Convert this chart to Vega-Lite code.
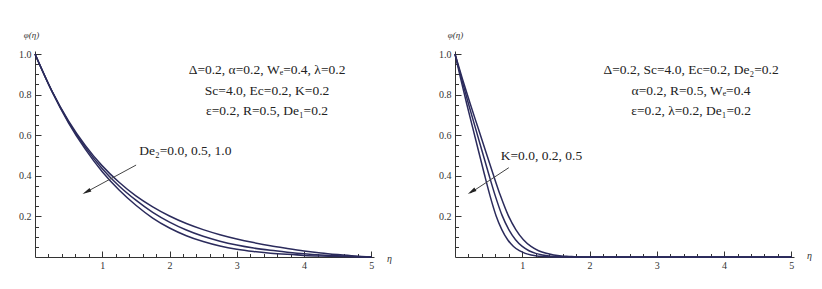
{
  "$schema": "https://vega.github.io/schema/vega-lite/v6.json",
  "padding": {"left": 18, "top": 30, "right": 5, "bottom": 5},
  "background": "white",
  "config": {"view": {"stroke": null}, "font": "Liberation Serif"},
  "datasets": {
    "left": [
      {"eta": 0, "phi": 1.0, "s": "a"}, {"eta": 0.25, "phi": 0.819, "s": "a"}, {"eta": 0.5, "phi": 0.670, "s": "a"}, {"eta": 0.75, "phi": 0.549, "s": "a"}, {"eta": 1.0, "phi": 0.449, "s": "a"}, {"eta": 1.25, "phi": 0.368, "s": "a"}, {"eta": 1.5, "phi": 0.301, "s": "a"}, {"eta": 1.75, "phi": 0.247, "s": "a"}, {"eta": 2.0, "phi": 0.202, "s": "a"}, {"eta": 2.25, "phi": 0.165, "s": "a"}, {"eta": 2.5, "phi": 0.135, "s": "a"}, {"eta": 2.75, "phi": 0.110, "s": "a"}, {"eta": 3.0, "phi": 0.089, "s": "a"}, {"eta": 3.25, "phi": 0.071, "s": "a"}, {"eta": 3.5, "phi": 0.055, "s": "a"}, {"eta": 3.75, "phi": 0.042, "s": "a"}, {"eta": 4.0, "phi": 0.030, "s": "a"}, {"eta": 4.25, "phi": 0.020, "s": "a"}, {"eta": 4.5, "phi": 0.012, "s": "a"}, {"eta": 4.75, "phi": 0.005, "s": "a"}, {"eta": 5.0, "phi": 0.0, "s": "a"},
      {"eta": 0, "phi": 1.0, "s": "b"}, {"eta": 0.25, "phi": 0.818, "s": "b"}, {"eta": 0.5, "phi": 0.665, "s": "b"}, {"eta": 0.75, "phi": 0.540, "s": "b"}, {"eta": 1.0, "phi": 0.435, "s": "b"}, {"eta": 1.25, "phi": 0.350, "s": "b"}, {"eta": 1.5, "phi": 0.280, "s": "b"}, {"eta": 1.75, "phi": 0.220, "s": "b"}, {"eta": 2.0, "phi": 0.172, "s": "b"}, {"eta": 2.25, "phi": 0.133, "s": "b"}, {"eta": 2.5, "phi": 0.102, "s": "b"}, {"eta": 2.75, "phi": 0.078, "s": "b"}, {"eta": 3.0, "phi": 0.059, "s": "b"}, {"eta": 3.25, "phi": 0.044, "s": "b"}, {"eta": 3.5, "phi": 0.033, "s": "b"}, {"eta": 3.75, "phi": 0.024, "s": "b"}, {"eta": 4.0, "phi": 0.016, "s": "b"}, {"eta": 4.25, "phi": 0.010, "s": "b"}, {"eta": 4.5, "phi": 0.006, "s": "b"}, {"eta": 4.75, "phi": 0.002, "s": "b"}, {"eta": 5.0, "phi": 0.0, "s": "b"},
      {"eta": 0, "phi": 1.0, "s": "c"}, {"eta": 0.25, "phi": 0.817, "s": "c"}, {"eta": 0.5, "phi": 0.660, "s": "c"}, {"eta": 0.75, "phi": 0.530, "s": "c"}, {"eta": 1.0, "phi": 0.420, "s": "c"}, {"eta": 1.25, "phi": 0.330, "s": "c"}, {"eta": 1.5, "phi": 0.255, "s": "c"}, {"eta": 1.75, "phi": 0.192, "s": "c"}, {"eta": 2.0, "phi": 0.143, "s": "c"}, {"eta": 2.25, "phi": 0.105, "s": "c"}, {"eta": 2.5, "phi": 0.076, "s": "c"}, {"eta": 2.75, "phi": 0.054, "s": "c"}, {"eta": 3.0, "phi": 0.038, "s": "c"}, {"eta": 3.25, "phi": 0.027, "s": "c"}, {"eta": 3.5, "phi": 0.019, "s": "c"}, {"eta": 3.75, "phi": 0.013, "s": "c"}, {"eta": 4.0, "phi": 0.008, "s": "c"}, {"eta": 4.25, "phi": 0.005, "s": "c"}, {"eta": 4.5, "phi": 0.003, "s": "c"}, {"eta": 4.75, "phi": 0.001, "s": "c"}, {"eta": 5.0, "phi": 0.0, "s": "c"}
    ],
    "right": [
      {"eta": 0, "phi": 1.0, "s": "a"}, {"eta": 0.113, "phi": 0.875, "s": "a"}, {"eta": 0.226, "phi": 0.755, "s": "a"}, {"eta": 0.339, "phi": 0.64, "s": "a"}, {"eta": 0.452, "phi": 0.525, "s": "a"}, {"eta": 0.565, "phi": 0.41, "s": "a"}, {"eta": 0.678, "phi": 0.30, "s": "a"}, {"eta": 0.791, "phi": 0.205, "s": "a"}, {"eta": 0.904, "phi": 0.135, "s": "a"}, {"eta": 1.017, "phi": 0.085, "s": "a"}, {"eta": 1.13, "phi": 0.052, "s": "a"}, {"eta": 1.243, "phi": 0.031, "s": "a"}, {"eta": 1.356, "phi": 0.018, "s": "a"}, {"eta": 1.469, "phi": 0.010, "s": "a"}, {"eta": 1.582, "phi": 0.005, "s": "a"}, {"eta": 1.695, "phi": 0.003, "s": "a"}, {"eta": 1.808, "phi": 0.001, "s": "a"}, {"eta": 2.034, "phi": 0.0, "s": "a"}, {"eta": 5.0, "phi": 0.0, "s": "a"},
      {"eta": 0, "phi": 1.0, "s": "b"}, {"eta": 0.1, "phi": 0.875, "s": "b"}, {"eta": 0.2, "phi": 0.755, "s": "b"}, {"eta": 0.3, "phi": 0.64, "s": "b"}, {"eta": 0.4, "phi": 0.525, "s": "b"}, {"eta": 0.5, "phi": 0.41, "s": "b"}, {"eta": 0.6, "phi": 0.30, "s": "b"}, {"eta": 0.7, "phi": 0.205, "s": "b"}, {"eta": 0.8, "phi": 0.135, "s": "b"}, {"eta": 0.9, "phi": 0.085, "s": "b"}, {"eta": 1.0, "phi": 0.052, "s": "b"}, {"eta": 1.1, "phi": 0.031, "s": "b"}, {"eta": 1.2, "phi": 0.018, "s": "b"}, {"eta": 1.3, "phi": 0.010, "s": "b"}, {"eta": 1.4, "phi": 0.005, "s": "b"}, {"eta": 1.5, "phi": 0.003, "s": "b"}, {"eta": 1.6, "phi": 0.001, "s": "b"}, {"eta": 1.8, "phi": 0.0, "s": "b"}, {"eta": 5.0, "phi": 0.0, "s": "b"},
      {"eta": 0, "phi": 1.0, "s": "c"}, {"eta": 0.087, "phi": 0.875, "s": "c"}, {"eta": 0.174, "phi": 0.755, "s": "c"}, {"eta": 0.261, "phi": 0.64, "s": "c"}, {"eta": 0.348, "phi": 0.525, "s": "c"}, {"eta": 0.435, "phi": 0.41, "s": "c"}, {"eta": 0.522, "phi": 0.30, "s": "c"}, {"eta": 0.609, "phi": 0.205, "s": "c"}, {"eta": 0.696, "phi": 0.135, "s": "c"}, {"eta": 0.783, "phi": 0.085, "s": "c"}, {"eta": 0.87, "phi": 0.052, "s": "c"}, {"eta": 0.957, "phi": 0.031, "s": "c"}, {"eta": 1.044, "phi": 0.018, "s": "c"}, {"eta": 1.131, "phi": 0.010, "s": "c"}, {"eta": 1.218, "phi": 0.005, "s": "c"}, {"eta": 1.305, "phi": 0.003, "s": "c"}, {"eta": 1.392, "phi": 0.001, "s": "c"}, {"eta": 1.566, "phi": 0.0, "s": "c"}, {"eta": 5.0, "phi": 0.0, "s": "c"}
    ]
  },
  "spacing": 81,
  "bounds": "flush",
  "hconcat": [
    {
      "width": 339, "height": 206,
      "layer": [
        {
          "data": {"name": "left"},
          "mark": {"type": "line", "color": "#2b2b5c", "strokeWidth": 1.5, "interpolate": "monotone"},
          "encoding": {
            "x": {"field": "eta", "type": "quantitative", "scale": {"domain": [0, 5.04], "nice": false, "zero": false},
              "axis": {"orient": "bottom", "values": [1, 2, 3, 4, 5], "tickSize": -6, "labels": false, "grid": false, "domainColor": "#333", "tickColor": "#333", "title": null}},
            "y": {"field": "phi", "type": "quantitative", "scale": {"domain": [0, 1.015], "nice": false},
              "axis": {"orient": "left", "values": [0.2, 0.4, 0.6, 0.8, 1.0], "tickSize": -6, "labels": false, "grid": false, "domainColor": "#333", "tickColor": "#333", "title": null}},
            "detail": {"field": "s"}
          }
        },
        {
          "data": {"values": [{}]},
          "mark": {"type": "rule", "color": "#444", "strokeWidth": 1},
          "encoding": {
            "x": {"datum": 1.503, "type": "quantitative", "scale": {"domain": [0, 5.04], "nice": false, "zero": false},
              "axis": {"orient": "bottom", "values": [0.2, 0.4, 0.6, 0.8, 1.2, 1.4, 1.6, 1.8, 2.2, 2.4, 2.6, 2.8, 3.2, 3.4, 3.6, 3.8, 4.2, 4.4, 4.6, 4.8], "tickSize": -3.5, "labels": false, "domain": false, "grid": false, "tickColor": "#333", "title": null}},
            "y": {"datum": 0.453, "type": "quantitative", "scale": {"domain": [0, 1.015], "nice": false},
              "axis": {"orient": "left", "values": [0.05, 0.1, 0.15, 0.25, 0.3, 0.35, 0.45, 0.5, 0.55, 0.65, 0.7, 0.75, 0.85, 0.9, 0.95], "tickSize": -3.5, "labels": false, "domain": false, "grid": false, "tickColor": "#333", "title": null}},
            "x2": {"datum": 0.74},
            "y2": {"datum": 0.316}
          }
        },
        {
          "data": {"values": [{}]},
          "mark": {"type": "point", "shape": "M0,-1L0.4,0.8L-0.4,0.8Z", "filled": true, "color": "#222", "size": 100, "angle": 242, "opacity": 1},
          "encoding": {
            "x": {"datum": 0.772, "type": "quantitative", "scale": {"domain": [0, 5.04], "nice": false, "zero": false}, "axis": null},
            "y": {"datum": 0.322, "type": "quantitative", "scale": {"domain": [0, 1.015], "nice": false}, "axis": null}
          }
        },
        {
          "data": {"values": [{}]},
          "mark": {"type": "text", "text": ["Δ=0.2, α=0.2, Wₑ=0.4, λ=0.2", "Sc=4.0, Ec=0.2, K=0.2", "ε=0.2, R=0.5, De₁=0.2"], "align": "center", "baseline": "alphabetic", "fontSize": 13.5, "lineHeight": 20.5, "font": "Liberation Serif", "color": "#222"},
          "encoding": {
            "x": {"datum": 3.45, "type": "quantitative", "scale": {"domain": [0, 5.04], "nice": false, "zero": false}, "axis": null},
            "y": {"datum": 0.9, "type": "quantitative", "scale": {"domain": [0, 1.015], "nice": false}, "axis": null}
          }
        },
        {
          "data": {"values": [{}]},
          "mark": {"type": "text", "text": "De₂=0.0, 0.5, 1.0", "align": "left", "baseline": "middle", "fontSize": 13.5, "font": "Liberation Serif", "color": "#222"},
          "encoding": {
            "x": {"datum": 1.55, "type": "quantitative", "scale": {"domain": [0, 5.04], "nice": false, "zero": false},
              "axis": {"orient": "bottom", "values": [1, 2, 3, 4, 5], "ticks": false, "tickSize": 0, "domain": false, "grid": false, "labelFont": "Liberation Serif", "labelFontSize": 10, "labelColor": "#333", "labelPadding": 3, "title": "η", "titleFont": "Liberation Serif", "titleFontStyle": "italic", "titleFontWeight": "normal", "titleFontSize": 10, "titleColor": "#333", "titleX": 354, "titleY": 1, "titleAlign": "center", "titleBaseline": "middle", "titleAngle": 0}},
            "y": {"datum": 0.52, "type": "quantitative", "scale": {"domain": [0, 1.015], "nice": false},
              "axis": {"orient": "left", "values": [0.2, 0.4, 0.6, 0.8, 1.0], "format": ".1f", "ticks": false, "tickSize": 0, "domain": false, "grid": false, "labelFont": "Liberation Serif", "labelFontSize": 10, "labelColor": "#333", "labelPadding": 4, "title": "φ(η)", "titleFont": "Liberation Serif", "titleFontStyle": "italic", "titleFontWeight": "normal", "titleFontSize": 9, "titleColor": "#333", "titleX": -4, "titleY": -17, "titleAlign": "center", "titleBaseline": "middle", "titleAngle": 0}}
          }
        }
      ],
      "resolve": {"axis": {"x": "independent", "y": "independent"}}
    },
    {
      "width": 339, "height": 206,
      "layer": [
        {
          "data": {"name": "right"},
          "mark": {"type": "line", "color": "#2b2b5c", "strokeWidth": 1.5, "interpolate": "monotone"},
          "encoding": {
            "x": {"field": "eta", "type": "quantitative", "scale": {"domain": [0, 5.04], "nice": false, "zero": false},
              "axis": {"orient": "bottom", "values": [1, 2, 3, 4, 5], "tickSize": -6, "labels": false, "grid": false, "domainColor": "#333", "tickColor": "#333", "title": null}},
            "y": {"field": "phi", "type": "quantitative", "scale": {"domain": [0, 1.015], "nice": false},
              "axis": {"orient": "left", "values": [0.2, 0.4, 0.6, 0.8, 1.0], "tickSize": -6, "labels": false, "grid": false, "domainColor": "#333", "tickColor": "#333", "title": null}},
            "detail": {"field": "s"}
          }
        },
        {
          "data": {"values": [{}]},
          "mark": {"type": "rule", "color": "#444", "strokeWidth": 1},
          "encoding": {
            "x": {"datum": 0.80, "type": "quantitative", "scale": {"domain": [0, 5.04], "nice": false, "zero": false},
              "axis": {"orient": "bottom", "values": [0.2, 0.4, 0.6, 0.8, 1.2, 1.4, 1.6, 1.8, 2.2, 2.4, 2.6, 2.8, 3.2, 3.4, 3.6, 3.8, 4.2, 4.4, 4.6, 4.8], "tickSize": -3.5, "labels": false, "domain": false, "grid": false, "tickColor": "#333", "title": null}},
            "y": {"datum": 0.44, "type": "quantitative", "scale": {"domain": [0, 1.015], "nice": false},
              "axis": {"orient": "left", "values": [0.05, 0.1, 0.15, 0.25, 0.3, 0.35, 0.45, 0.5, 0.55, 0.65, 0.7, 0.75, 0.85, 0.9, 0.95], "tickSize": -3.5, "labels": false, "domain": false, "grid": false, "tickColor": "#333", "title": null}},
            "x2": {"datum": 0.23},
            "y2": {"datum": 0.316}
          }
        },
        {
          "data": {"values": [{}]},
          "mark": {"type": "point", "shape": "M0,-1L0.4,0.8L-0.4,0.8Z", "filled": true, "color": "#222", "size": 100, "angle": 237.6, "opacity": 1},
          "encoding": {
            "x": {"datum": 0.253, "type": "quantitative", "scale": {"domain": [0, 5.04], "nice": false, "zero": false}, "axis": null},
            "y": {"datum": 0.323, "type": "quantitative", "scale": {"domain": [0, 1.015], "nice": false}, "axis": null}
          }
        },
        {
          "data": {"values": [{}]},
          "mark": {"type": "text", "text": ["Δ=0.2, Sc=4.0, Ec=0.2, De₂=0.2", "α=0.2, R=0.5, Wₑ=0.4", "ε=0.2, λ=0.2, De₁=0.2"], "align": "center", "baseline": "alphabetic", "fontSize": 13.5, "lineHeight": 20.5, "font": "Liberation Serif", "color": "#222"},
          "encoding": {
            "x": {"datum": 3.51, "type": "quantitative", "scale": {"domain": [0, 5.04], "nice": false, "zero": false}, "axis": null},
            "y": {"datum": 0.9, "type": "quantitative", "scale": {"domain": [0, 1.015], "nice": false}, "axis": null}
          }
        },
        {
          "data": {"values": [{}]},
          "mark": {"type": "text", "text": "K=0.0, 0.2, 0.5", "align": "left", "baseline": "middle", "fontSize": 13.5, "font": "Liberation Serif", "color": "#222"},
          "encoding": {
            "x": {"datum": 0.68, "type": "quantitative", "scale": {"domain": [0, 5.04], "nice": false, "zero": false},
              "axis": {"orient": "bottom", "values": [1, 2, 3, 4, 5], "ticks": false, "tickSize": 0, "domain": false, "grid": false, "labelFont": "Liberation Serif", "labelFontSize": 10, "labelColor": "#333", "labelPadding": 3, "title": "η", "titleFont": "Liberation Serif", "titleFontStyle": "italic", "titleFontWeight": "normal", "titleFontSize": 10, "titleColor": "#333", "titleX": 354, "titleY": -2, "titleAlign": "center", "titleBaseline": "middle", "titleAngle": 0}},
            "y": {"datum": 0.5, "type": "quantitative", "scale": {"domain": [0, 1.015], "nice": false},
              "axis": {"orient": "left", "values": [0.2, 0.4, 0.6, 0.8, 1.0], "format": ".1f", "ticks": false, "tickSize": 0, "domain": false, "grid": false, "labelFont": "Liberation Serif", "labelFontSize": 10, "labelColor": "#333", "labelPadding": 4, "title": "φ(η)", "titleFont": "Liberation Serif", "titleFontStyle": "italic", "titleFontWeight": "normal", "titleFontSize": 9, "titleColor": "#333", "titleX": 0, "titleY": -17, "titleAlign": "center", "titleBaseline": "middle", "titleAngle": 0}}
          }
        }
      ],
      "resolve": {"axis": {"x": "independent", "y": "independent"}}
    }
  ]
}
